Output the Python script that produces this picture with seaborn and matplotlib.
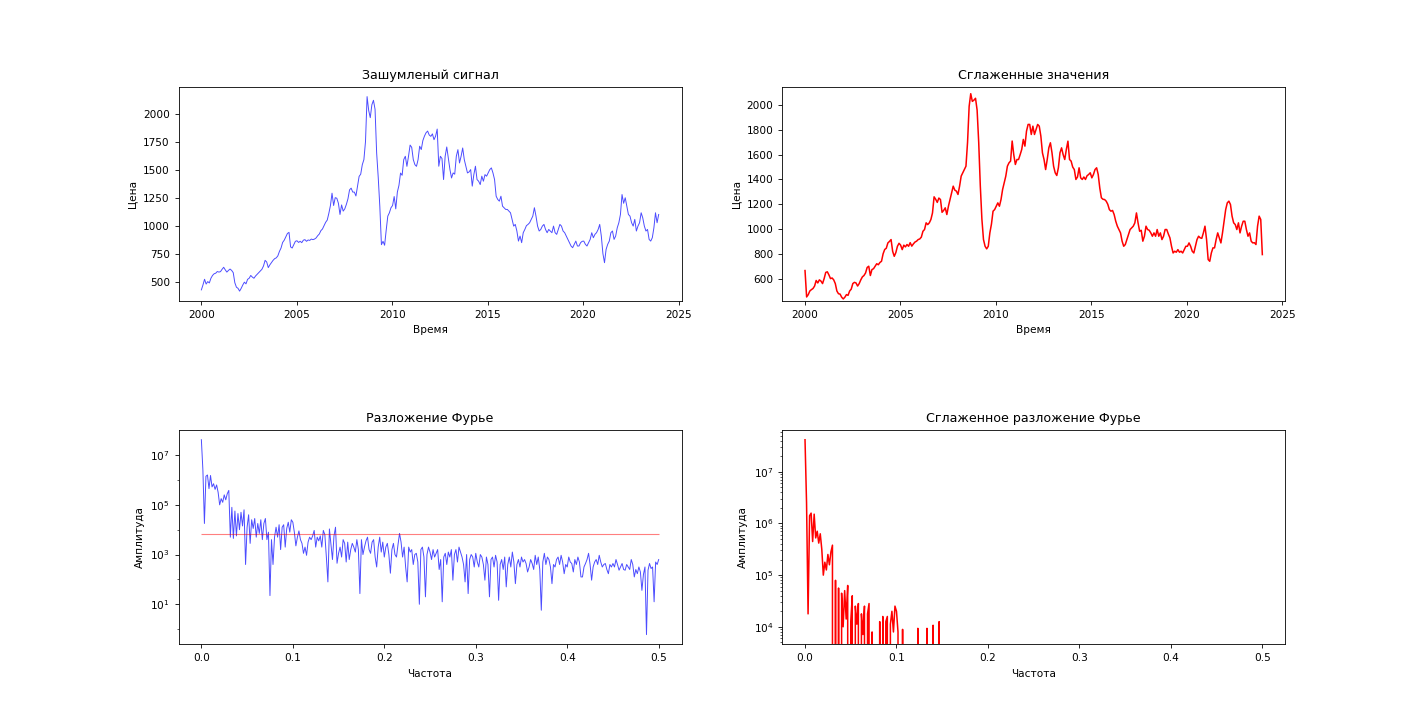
import numpy as np
import seaborn as sns
import matplotlib
matplotlib.use('Agg')
import matplotlib.pyplot as plt
from matplotlib.ticker import FixedLocator, NullFormatter

# price, one value per month, 2000 .. end of 2023
noisy_price = [
    426, 470, 521, 478, 500, 488, 530, 555, 570, 575, 590, 585,        # 2000
    589, 610, 628, 605, 585, 600, 612, 600, 580, 490, 450, 440,        # 2001
    415, 440, 470, 495, 480, 520, 530, 555, 540, 530, 550, 565,        # 2002
    580, 595, 610, 640, 690, 675, 625, 650, 670, 690, 705, 712,        # 2003
    730, 770, 800, 850, 870, 900, 930, 940, 810, 800, 830, 860,        # 2004
    865, 850, 860, 848, 870, 875, 860, 872, 868, 880, 875, 880,        # 2005
    890, 910, 925, 955, 970, 1000, 1030, 1050, 1110, 1180, 1290, 1180, # 2006
    1250, 1245, 1200, 1100, 1185, 1130, 1150, 1190, 1240, 1320, 1335, 1300,
    1300, 1265, 1350, 1440, 1460, 1545, 1590, 1750, 2153, 2030, 1965, 2080,
    2120, 2040, 1650, 1430, 1170, 830, 860, 825, 960, 1085, 1115, 1160,
    1180, 1260, 1150, 1300, 1360, 1470, 1450, 1590, 1620, 1530, 1620, 1720,
    1700, 1590, 1545, 1530, 1590, 1710, 1680, 1760, 1800, 1830, 1845, 1810,
    1798, 1820, 1768, 1800, 1863, 1531, 1620, 1600, 1412, 1620, 1703, 1600,
    1501, 1426, 1471, 1460, 1620, 1679, 1560, 1620, 1694, 1590, 1531, 1471,
    1480, 1501, 1353, 1456, 1531, 1412, 1397, 1367, 1442, 1397, 1456, 1442,
    1471, 1501, 1516, 1471, 1412, 1263, 1234, 1219, 1263, 1174, 1160, 1145,
    1145, 1130, 1115, 1056, 996, 1011, 952, 862, 907, 848, 937, 966,
    1000, 1011, 1026, 1056, 1085, 1160, 1085, 996, 952, 966, 996, 1011,
    966, 937, 966, 952, 937, 996, 937, 922, 966, 1011, 996, 952,
    937, 907, 877, 848, 818, 803, 833, 862, 818, 818, 848, 860,
    862, 833, 818, 848, 877, 937, 892, 922, 937, 966, 1011, 907,
    750, 669, 788, 833, 862, 937, 952, 877, 907, 981, 1026, 1100,
    1278, 1200, 1249, 1174, 1100, 1085, 1026, 996, 1056, 952, 996, 1026,
    1115, 1070, 996, 952, 966, 877, 862, 892, 981, 1115, 1026, 1100,   # 2023
]

smooth_price = [
    665, 452, 470, 500, 511, 520, 540, 585, 565, 590, 580, 560,
    600, 650, 655, 630, 600, 605, 590, 560, 500, 478, 475, 450,
    436, 450, 471, 465, 500, 515, 560, 570, 565, 540, 560, 590,
    614, 625, 646, 690, 700, 625, 673, 680, 700, 720, 712, 730,
    740, 800, 835, 845, 888, 900, 915, 820, 780, 810, 861, 885,
    870, 834, 870, 856, 875, 861, 890, 862, 880, 895, 902, 915,
    920, 935, 982, 996, 1050, 1036, 1050, 1077, 1130, 1260, 1240, 1215,
    1250, 1238, 1135, 1150, 1171, 1117, 1184, 1238, 1292, 1346, 1314, 1306,
    1279, 1346, 1427, 1454, 1480, 1507, 1700, 1990, 2092, 2030, 2040, 2055,
    1960, 1700, 1350, 1080, 915, 861, 840, 861, 969, 1040, 1144, 1157,
    1184, 1211, 1184, 1238, 1319, 1373, 1427, 1507, 1534, 1548, 1710, 1600,
    1521, 1561, 1561, 1600, 1642, 1723, 1669, 1790, 1844, 1844, 1763, 1830,
    1763, 1804, 1844, 1830, 1750, 1615, 1561, 1480, 1561, 1655, 1696, 1615,
    1507, 1454, 1432, 1494, 1615, 1655, 1600, 1561, 1642, 1709, 1561, 1548,
    1500, 1480, 1400, 1420, 1494, 1413, 1400, 1420, 1400, 1430, 1440, 1454,
    1413, 1440, 1480, 1494, 1440, 1330, 1252, 1240, 1238, 1225, 1200, 1157,
    1144, 1150, 1117, 1063, 1023, 996, 969, 902, 861, 875, 915, 955,
    996, 1009, 1023, 1050, 1130, 1050, 982, 990, 902, 942, 1023, 996,
    990, 969, 942, 969, 942, 996, 942, 969, 915, 942, 996, 996,
    960, 929, 861, 807, 821, 813, 834, 813, 821, 807, 834, 861,
    861, 888, 861, 821, 807, 861, 915, 942, 929, 925, 969, 1023,
    915, 754, 740, 807, 848, 848, 915, 969, 929, 888, 969, 1063,
    1157, 1211, 1225, 1198, 1104, 1050, 1036, 996, 1050, 969, 1023, 1063,
    1063, 996, 942, 969, 902, 888, 890, 875, 1023, 1104, 1077, 794,
]
start_year, end_year = 2000.0, 2023.96

# fourier amplitude (log10), 0 .. 0.5 cycles/sample
spectrum_log10 = [
    7.62, 6.4, 4.25, 6.15, 6.2, 5.65, 6.18, 5.72, 5.85, 5.62,
    5.8, 5.5, 5.0, 5.25, 5.1, 5.4, 5.2, 5.45, 5.58, 3.7,
    4.9, 3.65, 4.75, 3.75, 4.65, 4.0, 4.7, 4.15, 4.8, 2.6,
    4.1, 4.6, 3.45, 4.4, 4.05, 4.45, 3.7, 4.25, 3.85, 4.4,
    3.6, 4.25, 4.45, 3.6, 3.9, 1.35, 3.6, 2.6, 3.7, 4.1,
    3.7, 4.2, 3.2, 4.1, 4.2, 3.3, 4.05, 4.3, 3.9, 4.4,
    4.3, 3.9, 3.35, 3.7, 3.95, 3.6, 3.45, 3.05, 3.3, 2.97,
    3.5, 3.7, 3.6, 3.75, 3.97, 3.3, 3.7, 3.55, 3.75, 3.3,
    3.97, 3.8, 2.9, 1.9, 4.03, 3.4, 2.8, 3.75, 4.1, 2.65,
    3.05, 3.3, 2.9, 3.6, 3.45, 2.7, 3.5, 2.8, 3.2, 3.45,
    3.3, 3.1, 3.6, 3.2, 1.43, 3.6, 3.0, 3.3, 3.55, 3.7,
    3.2, 3.05, 3.5, 3.6, 2.9, 2.5, 3.3, 3.7, 3.1, 3.5,
    2.9, 3.3, 3.45, 3.0, 2.25, 3.2, 3.45, 3.0, 2.9, 3.4,
    3.85, 3.5, 2.9, 3.3, 2.5, 1.9, 3.3, 3.1, 3.2, 2.6,
    3.0, 3.05, 2.7, 1.0, 3.2, 3.3, 2.9, 1.3, 3.0, 3.3,
    3.1, 2.8, 3.2, 2.9, 3.05, 3.2, 2.4, 2.8, 1.1, 2.9,
    3.05, 2.6, 3.1, 2.9, 3.2, 1.97, 3.0, 3.2, 2.7, 3.3,
    3.1, 2.9, 2.6, 1.9, 3.0, 1.43, 2.8, 3.0, 2.9, 2.5,
    3.05, 2.7, 2.5, 3.0, 2.9, 2.6, 1.97, 2.9, 2.6, 1.3,
    2.8, 2.9, 2.5, 2.97, 2.7, 1.16, 2.6, 2.8, 2.4, 2.9,
    1.7, 2.6, 2.9, 2.5, 3.1, 2.7, 1.83, 2.6, 2.8, 2.5,
    2.9, 2.7, 2.8, 2.64, 2.3, 2.5, 2.8, 2.64, 2.4, 2.97,
    2.6, 2.9, 2.4, 0.76, 2.7, 3.05, 2.6, 2.9, 2.8, 2.5,
    1.83, 2.6, 2.5, 2.8, 2.9, 2.6, 2.97, 2.7, 2.23, 2.6,
    2.5, 2.9, 2.7, 2.64, 2.3, 2.8, 2.6, 2.9, 2.7, 2.1,
    2.1, 2.5, 2.64, 2.8, 3.05, 2.6, 1.97, 2.5, 2.7, 2.8,
    2.6, 2.97, 2.7, 2.5, 2.6, 2.64, 2.4, 2.23, 2.6, 2.5,
    2.64, 2.5, 2.8, 2.6, 2.37, 2.5, 2.64, 2.4, 2.37, 2.6,
    2.5, 2.4, 2.8, 2.6, 2.1, 2.4, 2.23, 2.5, 2.3, 1.56,
    2.2, 2.5, -0.22, 2.37, 2.64, 2.44, 2.5, 1.1, 2.7, 2.6,
    2.8,
]

# smoothed spectrum: None = bin removed (amplitude 0), everything after is 0
smooth_spectrum_head = [
    7.62, 6.4, 4.25, 6.15, 6.2, 5.65, 6.18, 5.72, 5.85, 5.62,
    5.8, 5.5, 5.0, 5.25, 5.1, 5.4, 5.2, 5.45, 5.58, None,
    4.9, None, 4.75, None, 4.65, 4.0, 4.7, 4.15, 4.8, None,
    4.1, 4.6, None, 4.4, 4.05, 4.45, None, 4.25, 3.85, 4.4,
    None, 4.25, 4.45, None, 3.9, None, None, None, None, 4.1,
    None, 4.2, None, 4.1, 4.2, None, 4.05, 4.3, 3.9, 4.4,
    4.3, 3.9, None, None, 3.95, None, None, None, None, None,
    None, None, None, None, 3.97, None, None, None, None, None,
    3.97, None, None, None, 4.03, None, None, None, 4.1, None,
]
threshold = 7.0e3

dates = np.linspace(start_year, end_year, len(noisy_price))
freqs = np.linspace(0, 0.5, len(spectrum_log10))
amplitude = 10 ** np.array(spectrum_log10)
smooth_amplitude = np.zeros(len(spectrum_log10))
for i, v in enumerate(smooth_spectrum_head):
    if v is not None:
        smooth_amplitude[i] = 10 ** v

# the reference was drawn bigger and scaled down, so everything is ~0.76x
plt.rcParams.update({
    'font.size': 7.6,
    'axes.titlesize': 9.1,
    'axes.labelsize': 7.6,
    'xtick.labelsize': 7.6,
    'ytick.labelsize': 7.6,
    'axes.linewidth': 0.6,
    'xtick.major.size': 2.7,
    'ytick.major.size': 2.7,
    'xtick.minor.size': 1.5,
    'ytick.minor.size': 1.5,
    'xtick.major.width': 0.6,
    'ytick.major.width': 0.6,
    'xtick.minor.width': 0.45,
    'ytick.minor.width': 0.45,
})

fig, axes = plt.subplots(2, 2, figsize=(14.28, 7.24), dpi=100)
plt.subplots_adjust(hspace=0.6)

ax = axes[0, 0]
sns.lineplot(x=dates, y=noisy_price, ax=ax, color='blue', alpha=0.7, linewidth=0.7,
             estimator=None, sort=False)
ax.set_ylim(324, 2240)
ax.set_title('Зашумленый сигнал')
ax.set_xlabel('Время')
ax.set_ylabel('Цена')

ax = axes[0, 1]
sns.lineplot(x=dates, y=smooth_price, ax=ax, color='red', linewidth=1.1,
             estimator=None, sort=False)
ax.set_ylim(417, 2147)
ax.set_yticks(range(600, 2001, 200))
ax.set_title('Сглаженные значения')
ax.set_xlabel('Время')
ax.set_ylabel('Цена')

ax = axes[1, 0]
sns.lineplot(x=freqs, y=amplitude, ax=ax, color='blue', alpha=0.7, linewidth=0.7,
             estimator=None, sort=False)
ax.hlines(threshold, freqs[0], freqs[-1], color='red', alpha=0.5, linewidth=0.8)
ax.set_yscale('log')
ax.yaxis.set_major_locator(FixedLocator([1e1, 1e3, 1e5, 1e7]))
ax.yaxis.set_minor_locator(FixedLocator([1e0, 1e2, 1e4, 1e6]))
ax.yaxis.set_minor_formatter(NullFormatter())
ax.set_title('Разложение Фурье')
ax.set_xlabel('Частота')
ax.set_ylabel('Амплитуда')

ax = axes[1, 1]
sns.lineplot(x=freqs, y=smooth_amplitude, ax=ax, color='red', linewidth=1.1,
             estimator=None, sort=False)
ax.set_yscale('log')
ax.set_ylim(10 ** 3.66, 10 ** 7.81)
ax.set_title('Сглаженное разложение Фурье')
ax.set_xlabel('Частота')
ax.set_ylabel('Амплитуда')

fig.savefig('out.png', dpi=100)
